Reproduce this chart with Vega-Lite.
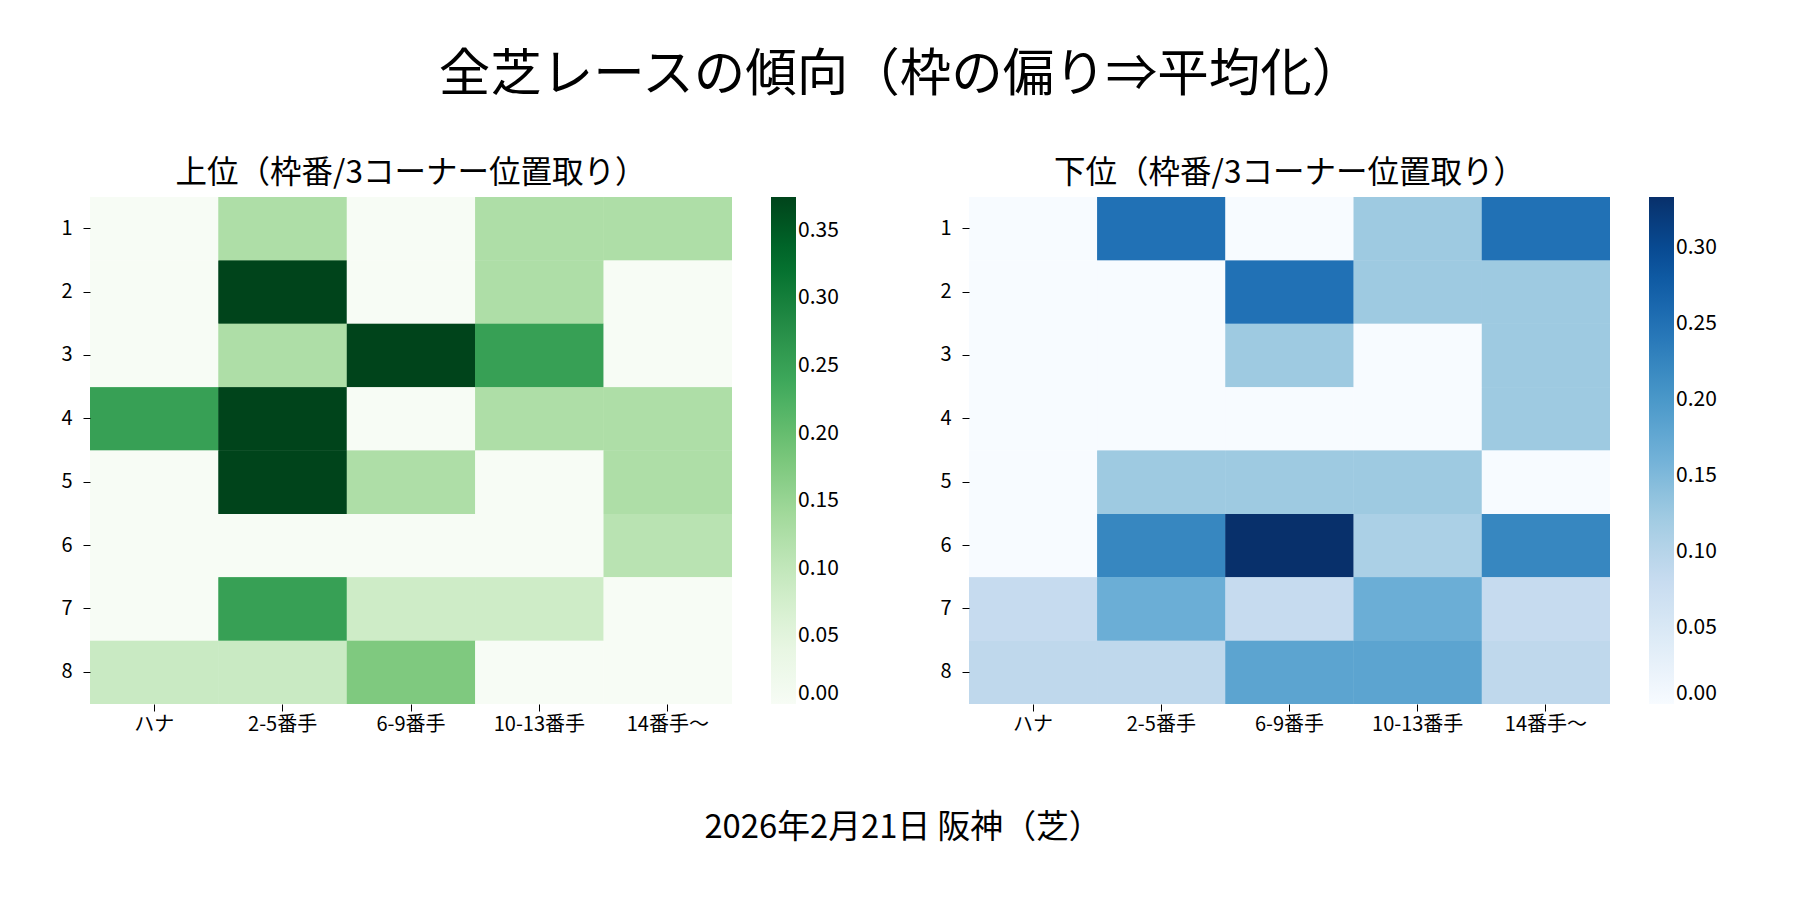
{
  "$schema": "https://vega.github.io/schema/vega-lite/v6.json",
  "background": "white",
  "padding": {"left": 60, "top": 50, "right": 5, "bottom": 5},
  "title": {"text": "全芝レースの傾向（枠の偏り⇒平均化）", "fontSize": 51.5, "fontWeight": "normal", "anchor": "middle", "offset": 56, "dx": 12},
  "datasets": {
    "upper": [
      {"waku": 1, "pos": "ハナ", "v": 0}, {"waku": 1, "pos": "2-5番手", "v": 0.125}, {"waku": 1, "pos": "6-9番手", "v": 0}, {"waku": 1, "pos": "10-13番手", "v": 0.125}, {"waku": 1, "pos": "14番手〜", "v": 0.125},
      {"waku": 2, "pos": "ハナ", "v": 0}, {"waku": 2, "pos": "2-5番手", "v": 0.375}, {"waku": 2, "pos": "6-9番手", "v": 0}, {"waku": 2, "pos": "10-13番手", "v": 0.125}, {"waku": 2, "pos": "14番手〜", "v": 0},
      {"waku": 3, "pos": "ハナ", "v": 0}, {"waku": 3, "pos": "2-5番手", "v": 0.125}, {"waku": 3, "pos": "6-9番手", "v": 0.375}, {"waku": 3, "pos": "10-13番手", "v": 0.25}, {"waku": 3, "pos": "14番手〜", "v": 0},
      {"waku": 4, "pos": "ハナ", "v": 0.25}, {"waku": 4, "pos": "2-5番手", "v": 0.375}, {"waku": 4, "pos": "6-9番手", "v": 0}, {"waku": 4, "pos": "10-13番手", "v": 0.125}, {"waku": 4, "pos": "14番手〜", "v": 0.125},
      {"waku": 5, "pos": "ハナ", "v": 0}, {"waku": 5, "pos": "2-5番手", "v": 0.375}, {"waku": 5, "pos": "6-9番手", "v": 0.125}, {"waku": 5, "pos": "10-13番手", "v": 0}, {"waku": 5, "pos": "14番手〜", "v": 0.125},
      {"waku": 6, "pos": "ハナ", "v": 0}, {"waku": 6, "pos": "2-5番手", "v": 0}, {"waku": 6, "pos": "6-9番手", "v": 0}, {"waku": 6, "pos": "10-13番手", "v": 0}, {"waku": 6, "pos": "14番手〜", "v": 0.111},
      {"waku": 7, "pos": "ハナ", "v": 0}, {"waku": 7, "pos": "2-5番手", "v": 0.25}, {"waku": 7, "pos": "6-9番手", "v": 0.083}, {"waku": 7, "pos": "10-13番手", "v": 0.083}, {"waku": 7, "pos": "14番手〜", "v": 0},
      {"waku": 8, "pos": "ハナ", "v": 0.09}, {"waku": 8, "pos": "2-5番手", "v": 0.09}, {"waku": 8, "pos": "6-9番手", "v": 0.176}, {"waku": 8, "pos": "10-13番手", "v": 0}, {"waku": 8, "pos": "14番手〜", "v": 0}
    ],
    "lower": [
      {"waku": 1, "pos": "ハナ", "v": 0}, {"waku": 1, "pos": "2-5番手", "v": 0.25}, {"waku": 1, "pos": "6-9番手", "v": 0}, {"waku": 1, "pos": "10-13番手", "v": 0.125}, {"waku": 1, "pos": "14番手〜", "v": 0.25},
      {"waku": 2, "pos": "ハナ", "v": 0}, {"waku": 2, "pos": "2-5番手", "v": 0}, {"waku": 2, "pos": "6-9番手", "v": 0.25}, {"waku": 2, "pos": "10-13番手", "v": 0.125}, {"waku": 2, "pos": "14番手〜", "v": 0.125},
      {"waku": 3, "pos": "ハナ", "v": 0}, {"waku": 3, "pos": "2-5番手", "v": 0}, {"waku": 3, "pos": "6-9番手", "v": 0.125}, {"waku": 3, "pos": "10-13番手", "v": 0}, {"waku": 3, "pos": "14番手〜", "v": 0.125},
      {"waku": 4, "pos": "ハナ", "v": 0}, {"waku": 4, "pos": "2-5番手", "v": 0}, {"waku": 4, "pos": "6-9番手", "v": 0}, {"waku": 4, "pos": "10-13番手", "v": 0}, {"waku": 4, "pos": "14番手〜", "v": 0.125},
      {"waku": 5, "pos": "ハナ", "v": 0}, {"waku": 5, "pos": "2-5番手", "v": 0.125}, {"waku": 5, "pos": "6-9番手", "v": 0.125}, {"waku": 5, "pos": "10-13番手", "v": 0.125}, {"waku": 5, "pos": "14番手〜", "v": 0},
      {"waku": 6, "pos": "ハナ", "v": 0}, {"waku": 6, "pos": "2-5番手", "v": 0.222}, {"waku": 6, "pos": "6-9番手", "v": 0.333}, {"waku": 6, "pos": "10-13番手", "v": 0.111}, {"waku": 6, "pos": "14番手〜", "v": 0.222},
      {"waku": 7, "pos": "ハナ", "v": 0.083}, {"waku": 7, "pos": "2-5番手", "v": 0.167}, {"waku": 7, "pos": "6-9番手", "v": 0.083}, {"waku": 7, "pos": "10-13番手", "v": 0.167}, {"waku": 7, "pos": "14番手〜", "v": 0.083},
      {"waku": 8, "pos": "ハナ", "v": 0.091}, {"waku": 8, "pos": "2-5番手", "v": 0.091}, {"waku": 8, "pos": "6-9番手", "v": 0.182}, {"waku": 8, "pos": "10-13番手", "v": 0.182}, {"waku": 8, "pos": "14番手〜", "v": 0.091}
    ]
  },
  "vconcat": [
    {
      "title": {"text": "2026年2月21日 阪神（芝）", "orient": "bottom", "fontSize": 32.8, "fontWeight": "normal", "anchor": "middle", "offset": 78, "dx": 14},
      "spacing": 100,
      "hconcat": [
        {
          "title": {"text": "上位（枠番/3コーナー位置取り）", "fontSize": 31.5, "fontWeight": "normal", "offset": 8},
          "width": 642,
          "height": 507,
          "data": {"name": "upper"},
          "encoding": {
            "x": {"field": "pos", "type": "ordinal", "sort": ["ハナ", "2-5番手", "6-9番手", "10-13番手", "14番手〜"], "title": null, "axis": {"labelPadding": 3}},
            "y": {"field": "waku", "type": "ordinal", "title": null, "axis": {"labelPadding": 11}},
            "color": {
              "field": "v", "type": "quantitative",
              "scale": {
                "domain": [0, 0.046875, 0.09375, 0.140625, 0.1875, 0.234375, 0.28125, 0.328125, 0.375],
                "range": ["#f7fcf5", "#e5f5e0", "#c7e9c0", "#a1d99b", "#74c476", "#41ab5d", "#238b45", "#006d2c", "#00441b"],
                "interpolate": "rgb"
              },
              "legend": {"values": [0, 0.05, 0.1, 0.15, 0.2, 0.25, 0.3, 0.35], "format": ".2f"}
            }
          },
          "layer": [{"mark": "rect"}, {"mark": "rect"}]
        },
        {
          "title": {"text": "下位（枠番/3コーナー位置取り）", "fontSize": 31.5, "fontWeight": "normal", "offset": 8},
          "width": 641,
          "height": 507,
          "data": {"name": "lower"},
          "encoding": {
            "x": {"field": "pos", "type": "ordinal", "sort": ["ハナ", "2-5番手", "6-9番手", "10-13番手", "14番手〜"], "title": null, "axis": {"labelPadding": 3}},
            "y": {"field": "waku", "type": "ordinal", "title": null, "axis": {"labelPadding": 11}},
            "color": {
              "field": "v", "type": "quantitative",
              "scale": {
                "domain": [0, 0.0416667, 0.0833333, 0.125, 0.1666667, 0.2083333, 0.25, 0.2916667, 0.3333333],
                "range": ["#f7fbff", "#deebf7", "#c6dbef", "#9ecae1", "#6baed6", "#4292c6", "#2171b5", "#08519c", "#08306b"],
                "interpolate": "rgb"
              },
              "legend": {"values": [0, 0.05, 0.1, 0.15, 0.2, 0.25, 0.3], "format": ".2f"}
            }
          },
          "layer": [{"mark": "rect"}, {"mark": "rect"}]
        }
      ],
      "resolve": {"scale": {"color": "independent"}, "legend": {"color": "independent"}}
    }
  ],
  "config": {
    "font": "Noto Sans CJK JP",
    "view": {"stroke": null},
    "axis": {"domain": false, "grid": false, "labelFontSize": 20, "labelColor": "#000", "tickColor": "#000", "tickSize": 7, "labelAngle": 0},
    "legend": {"orient": "right", "offset": 39, "title": null, "gradientLength": 507, "gradientThickness": 25, "gradientStrokeWidth": 0, "labelFontSize": 21, "labelColor": "#000", "labelOffset": 15, "padding": 0},
    "title": {"color": "#000"}
  }
}
